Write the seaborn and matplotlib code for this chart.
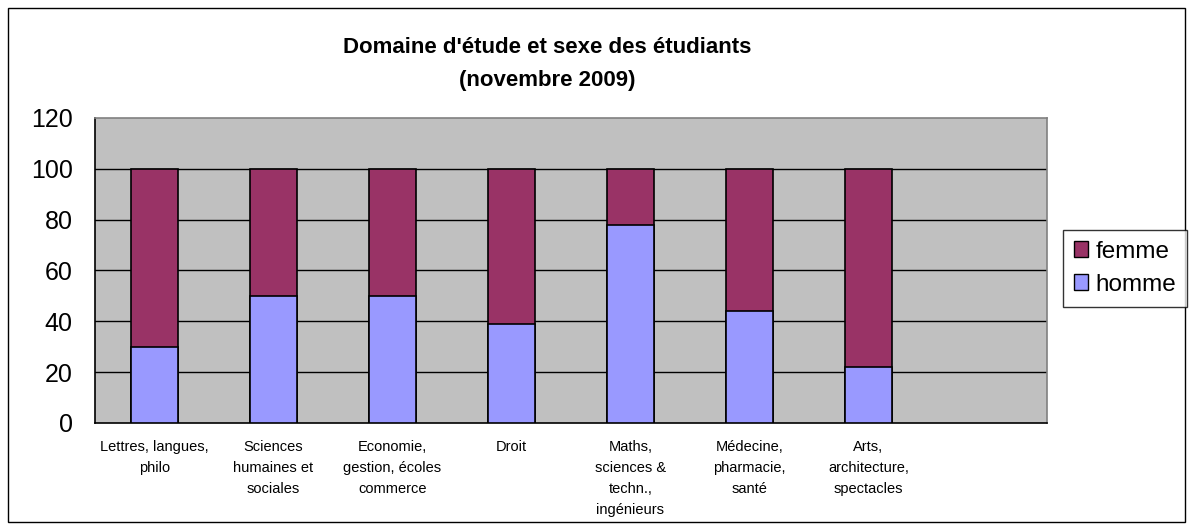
import numpy as np
import pandas as pd
import matplotlib
matplotlib.use('Agg')
import matplotlib.pyplot as plt
import seaborn as sns
from matplotlib.patches import Rectangle, Patch

# data (percent)
domaines = ['Lettres, langues,\nphilo', 'Sciences\nhumaines et\nsociales',
            'Economie,\ngestion, écoles\ncommerce', 'Droit',
            'Maths,\nsciences &\ntechn.,\ningénieurs', 'Médecine,\npharmacie,\nsanté',
            'Arts,\narchitecture,\nspectacles']
homme = [30, 50, 50, 39, 78, 44, 22]
femme = [70, 50, 50, 61, 22, 56, 78]
yticks = [0, 20, 40, 60, 80, 100, 120]

col_femme = '#993366'
col_homme = '#9999FF'

sns.set_style('white')
plt.rcParams['font.family'] = ['Liberation Sans', 'DejaVu Sans']
plt.rcParams['text.color'] = 'black'
plt.rcParams['xtick.color'] = 'black'
plt.rcParams['ytick.color'] = 'black'

df = pd.DataFrame({'domaine': domaines, 'homme': homme, 'femme': femme})
df['total'] = df['homme'] + df['femme']
order = domaines + ['']  # empty slot at the end, as in the original

fig = plt.figure(figsize=(11.93, 5.30), dpi=100)
ax = fig.add_axes([0.0796, 0.2019, 0.798, 0.5755])
ax.set_facecolor('#C0C0C0')

# stacked: total bar (femme colour) then homme on top of it
sns.barplot(data=df, x='domaine', y='total', order=order, color=col_femme,
            width=0.4, edgecolor='black', linewidth=1.2, saturation=1, ax=ax, zorder=3)
sns.barplot(data=df, x='domaine', y='homme', order=order, color=col_homme,
            width=0.4, edgecolor='black', linewidth=1.2, saturation=1, ax=ax, zorder=4)

ax.set_xlim(-0.5, len(order) - 0.5)
ax.set_ylim(0, 120)
ax.set_yticks(yticks)
ax.set_yticklabels([str(v) for v in yticks], fontsize=18)
ax.set_xlabel('')
ax.set_ylabel('')

# category labels centred, tick marks between categories
ax.set_xticks(range(len(order)))
ax.set_xticklabels(order, fontsize=10.5, linespacing=1.65, va='top')
ax.tick_params(axis='x', which='major', length=0, pad=12)
ax.set_xticks(np.arange(-0.5, len(order)), minor=True)
ax.tick_params(axis='x', which='minor', length=5, color='black', direction='out')
ax.tick_params(axis='y', length=6, color='black', direction='out', pad=10)

for v in yticks[1:-1]:
    ax.axhline(v, color='black', lw=1, zorder=1)
for s in ax.spines.values():
    s.set_color('#808080')
    s.set_linewidth(1.2)
ax.spines['left'].set_color('black')
ax.spines['bottom'].set_color('black')

handles = [Patch(facecolor=col_femme, edgecolor='black', label='femme'),
           Patch(facecolor=col_homme, edgecolor='black', label='homme')]
leg = fig.legend(handles=handles, loc='center left', bbox_to_anchor=(0.891, 0.494),
                 fontsize=17.5, frameon=True, fancybox=False, handlelength=0.6,
                 handleheight=0.6, handletextpad=0.3, borderpad=0.45, labelspacing=0.45,
                 borderaxespad=0)
leg.get_frame().set_edgecolor('black')
leg.get_frame().set_linewidth(1)

fig.text(0.459, 0.879, "Domaine d'étude et sexe des étudiants\n(novembre 2009)",
         ha='center', va='center', fontsize=16, fontweight='bold', linespacing=1.75)

fig.patches.append(Rectangle((8 / 1193, 8 / 530), 1177 / 1193, 514 / 530,
                             transform=fig.transFigure, fill=False,
                             edgecolor='black', linewidth=1))

fig.savefig('out.png', dpi=100)
